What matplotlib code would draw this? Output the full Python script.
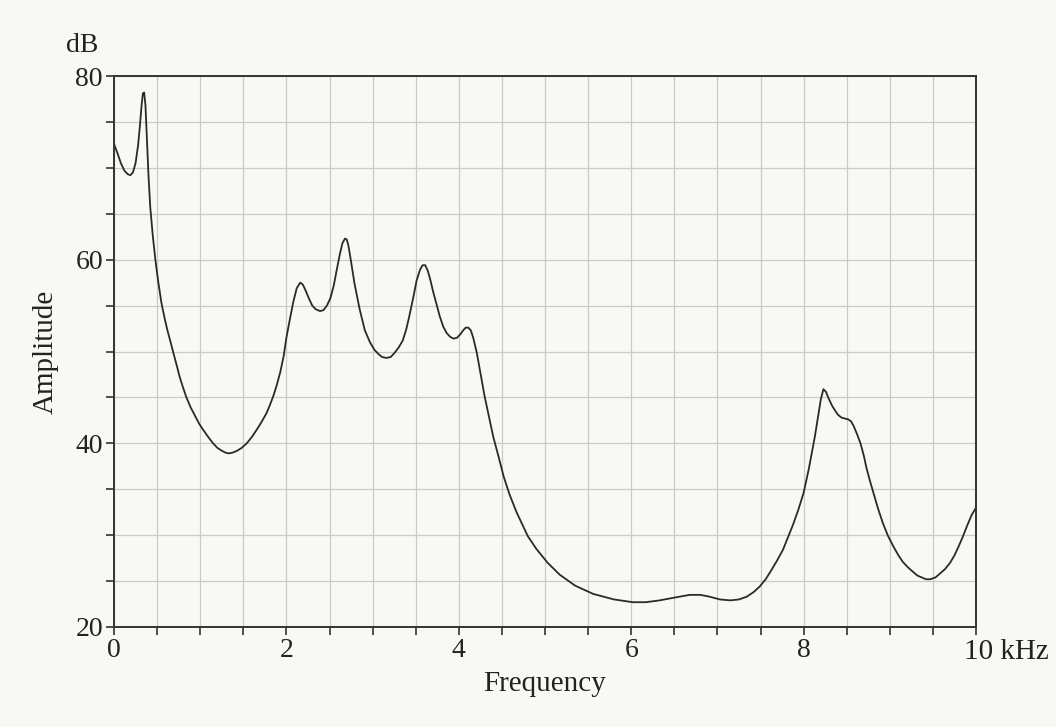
import matplotlib
matplotlib.use("Agg")
import matplotlib.pyplot as plt
from matplotlib.ticker import MultipleLocator

freq_khz = [0.00, 0.04, 0.08, 0.12, 0.16, 0.19, 0.22, 0.25, 0.28, 0.30, 0.32, 0.335, 0.35,
            0.365, 0.38, 0.40, 0.42, 0.45, 0.48, 0.51, 0.55, 0.59, 0.62, 0.66, 0.69, 0.73,
            0.76, 0.80, 0.84, 0.89, 0.94, 0.99, 1.04, 1.10, 1.15, 1.20, 1.25, 1.29, 1.33,
            1.38, 1.43, 1.48, 1.54, 1.60, 1.65, 1.71, 1.77, 1.81, 1.85, 1.89, 1.93, 1.97,
            2.00, 2.04, 2.08, 2.12, 2.16, 2.19, 2.22, 2.26, 2.30, 2.34, 2.39, 2.43, 2.47,
            2.51, 2.55, 2.58, 2.62, 2.65, 2.68, 2.70, 2.72, 2.75, 2.79, 2.85, 2.91, 2.97,
            3.02, 3.07, 3.11, 3.16, 3.21, 3.25, 3.30, 3.35, 3.39, 3.42, 3.47, 3.51, 3.55,
            3.58, 3.61, 3.64, 3.67, 3.70, 3.74, 3.78, 3.82, 3.86, 3.90, 3.94, 3.98, 4.02,
            4.05, 4.08, 4.11, 4.14, 4.17, 4.21, 4.25, 4.30, 4.35, 4.40, 4.46, 4.52, 4.59,
            4.67, 4.74, 4.80, 4.90, 5.03, 5.17, 5.35, 5.56, 5.80, 6.02, 6.17, 6.33, 6.50,
            6.68, 6.80, 6.91, 7.03, 7.15, 7.25, 7.34, 7.42, 7.49, 7.56, 7.62, 7.69, 7.76,
            7.82, 7.88, 7.94, 8.00, 8.06, 8.13, 8.17, 8.20, 8.23, 8.26, 8.29, 8.33, 8.37,
            8.40, 8.44, 8.48, 8.52, 8.55, 8.58, 8.62, 8.66, 8.70, 8.73, 8.77, 8.81, 8.86,
            8.92, 8.98, 9.04, 9.10, 9.15, 9.21, 9.27, 9.32, 9.37, 9.42, 9.47, 9.53, 9.58,
            9.64, 9.70, 9.75, 9.80, 9.85, 9.90, 9.95, 10.00]
amp_db = [72.6, 71.6, 70.5, 69.7, 69.3, 69.2, 69.5, 70.5, 72.5, 74.5, 76.8, 78.1, 78.2,
          76.8, 73.5, 69.2, 65.8, 62.6, 60.0, 57.8, 55.3, 53.5, 52.3, 50.9, 49.8, 48.4,
          47.3, 46.1, 45.0, 43.9, 43.0, 42.1, 41.4, 40.6, 40.0, 39.5, 39.2, 39.0, 38.9,
          39.0, 39.2, 39.5, 40.0, 40.7, 41.4, 42.3, 43.3, 44.2, 45.2, 46.4, 47.8, 49.6,
          51.5, 53.5, 55.4, 56.9, 57.5, 57.3, 56.7, 55.8, 55.0, 54.6, 54.4, 54.5, 55.0,
          55.8, 57.2, 58.7, 60.6, 61.8, 62.3, 62.2, 61.5, 59.8, 57.4, 54.6, 52.3, 51.0,
          50.2, 49.7, 49.4, 49.3, 49.4, 49.8, 50.4, 51.2, 52.4, 53.6, 55.8, 57.7, 58.9,
          59.4, 59.4, 58.8, 57.8, 56.6, 55.2, 53.8, 52.7, 52.0, 51.6, 51.4, 51.5, 51.9,
          52.3, 52.6, 52.6, 52.3, 51.4, 49.8, 47.7, 45.1, 42.9, 40.7, 38.6, 36.4, 34.4,
          32.5, 31.1, 29.9, 28.5, 27.0, 25.7, 24.5, 23.6, 23.0, 22.7, 22.7, 22.9, 23.2,
          23.5, 23.5, 23.3, 23.0, 22.9, 23.0, 23.3, 23.8, 24.4, 25.2, 26.1, 27.2, 28.4,
          29.8, 31.2, 32.8, 34.6, 37.2, 40.7, 43.0, 44.8, 45.9, 45.6, 44.9, 44.1, 43.5,
          43.1, 42.8, 42.7, 42.6, 42.4, 41.9, 41.0, 40.0, 38.6, 37.3, 35.9, 34.6, 33.0,
          31.3, 29.9, 28.8, 27.8, 27.1, 26.5, 26.0, 25.6, 25.4, 25.2, 25.2, 25.4, 25.8,
          26.3, 27.0, 27.8, 28.8, 29.9, 31.1, 32.2, 33.0]

y_ticks = [20, 40, 60, 80]
x_ticks = [0, 2, 4, 6, 8]

bg = "#f8f8f4"
plt.rcParams['font.family'] = ['Liberation Serif', 'DejaVu Serif']

fig = plt.figure(figsize=(10.56, 7.27), dpi=100, facecolor=bg)
ax = fig.add_axes([114/1056, 1-627/727, (976-114)/1056, (627-76)/727])
ax.set_facecolor(bg)

ax.plot(freq_khz, amp_db, color="#2a2a2a", lw=1.3, solid_joinstyle='round')

ax.set_xlim(0, 10)
ax.set_ylim(20, 80)
ax.xaxis.set_minor_locator(MultipleLocator(0.5))
ax.yaxis.set_minor_locator(MultipleLocator(5))
ax.set_xticks(x_ticks)
ax.set_xticklabels([str(v) for v in x_ticks])
ax.set_yticks(y_ticks)
ax.set_yticklabels([str(v) for v in y_ticks])

ax.grid(which='both', color="#cacaca", lw=0.9)
ax.set_axisbelow(True)
ax.tick_params(which='both', direction='out', length=6, width=1.2, color="#333333",
               labelsize=20, pad=2, labelcolor="#222222")
for s in ax.spines.values():
    s.set_color("#333333")
    s.set_linewidth(1.4)

ax.set_xlabel("Frequency", fontsize=21, color="#222222", labelpad=6)
ax.set_ylabel("Amplitude", fontsize=21, color="#222222", labelpad=12)

fig.text(964/1056, 1-652/727, "10 kHz", fontsize=21, color="#222222", ha='left', va='center')
fig.text(82/1056, 1-45/727, "dB", fontsize=20, color="#222222", ha='center', va='center')

fig.savefig("out.png", dpi=100, facecolor=bg)
